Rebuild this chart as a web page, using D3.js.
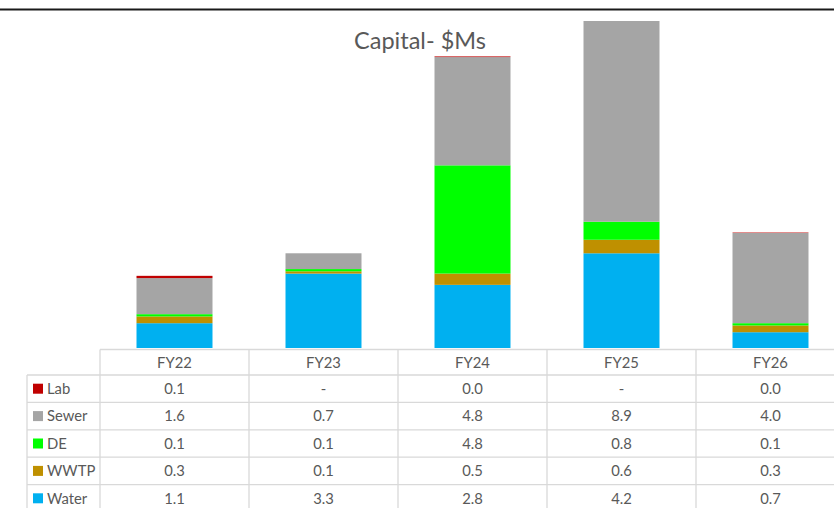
<!DOCTYPE html>
<html>
<head>
<meta charset="utf-8">
<script src="https://cdn.jsdelivr.net/npm/d3@7"></script>
<style>
  html, body { margin: 0; padding: 0; background: #fff; }
  svg { display: block; font-family: Lato, "Open Sans", sans-serif; }
</style>
</head>
<body>
<svg id="chart" width="834" height="508"></svg>
<script>
// Fiscal years (table columns / bar categories)
const years = ["FY22", "FY23", "FY24", "FY25", "FY26"];

// Capital spend by program, $M (null = no spend, shown as "-")
const water = [1.1, 3.3, 2.8, 4.2, 0.7];
const wwtp  = [0.3, 0.1, 0.5, 0.6, 0.3];
const de    = [0.1, 0.1, 4.8, 0.8, 0.1];
const sewer = [1.6, 0.7, 4.8, 8.9, 4.0];
const lab   = [0.1, null, 0.03, null, 0.02];

// Series in stacking order (bottom to top)
const series = [
  { name: "Water", values: water, color: "#00b0f0" },
  { name: "WWTP",  values: wwtp,  color: "#bf9000" },
  { name: "DE",    values: de,    color: "#00ff00" },
  { name: "Sewer", values: sewer, color: "#a5a5a5" },
  { name: "Lab",   values: lab,   color: "#c00000" }
];

const svg = d3.select("#chart");
const textColor = "#595959";
const gridColor = "#d9d9d9";
const tableFont = 14.8;

// Frame line across the top
svg.append("line")
  .attr("x1", 0).attr("x2", 834)
  .attr("y1", 9.5).attr("y2", 9.5)
  .attr("stroke", "#1a1a1a").attr("stroke-width", 2);

// Column scale shared by bars and table
const tableLeft = 100, tableRight = 845;
const x = d3.scaleBand().domain(years).range([tableLeft, tableRight]).padding(0);
const barW = x.bandwidth() * 0.51;

// Stack data
const rows = years.map((yr, i) => {
  const r = { year: yr };
  series.forEach(s => { r[s.name] = s.values[i] || 0; });
  return r;
});
const stack = d3.stack().keys(series.map(s => s.name))(rows);
const totals = rows.map(r => d3.sum(series, s => r[s.name]));

const baseY = 348;
const y = d3.scaleLinear().domain([0, d3.max(totals)]).range([baseY, 21]);

// Bars
const layers = svg.append("g").selectAll("g")
  .data(stack).join("g")
  .attr("fill", (d, i) => series[i].color);

layers.selectAll("rect")
  .data(d => d).join("rect")
  .attr("x", d => x(d.data.year) + (x.bandwidth() - barW) / 2)
  .attr("width", barW)
  .attr("y", d => y(d[1]))
  .attr("height", d => Math.max(0, y(d[0]) - y(d[1])));

// Title
svg.append("text")
  .attr("x", 420).attr("y", 48.5)
  .attr("text-anchor", "middle")
  .attr("fill", textColor)
  .attr("font-size", 23.5)
  .text("Capital- $Ms");

// Data table
const headerTop = 349.5, headerBottom = 375;
const rowH = 27.4;
const tableSeries = series.slice().reverse(); // Lab at top, Water at bottom
const legendLeft = 27;
const fmt = v => (v === null || v === undefined) ? "-" : d3.format(".1f")(v);

const table = svg.append("g");

// Horizontal rules
table.append("line")
  .attr("x1", tableLeft).attr("x2", tableRight)
  .attr("y1", headerTop).attr("y2", headerTop)
  .attr("stroke", gridColor).attr("stroke-width", 1.3);
tableSeries.forEach((s, i) => {
  const yy = headerBottom + i * rowH;
  table.append("line")
    .attr("x1", legendLeft).attr("x2", tableRight)
    .attr("y1", yy).attr("y2", yy)
    .attr("stroke", gridColor).attr("stroke-width", 1.3);
});
const tableBottom = headerBottom + tableSeries.length * rowH;
table.append("line")
  .attr("x1", legendLeft).attr("x2", tableRight)
  .attr("y1", tableBottom).attr("y2", tableBottom)
  .attr("stroke", gridColor).attr("stroke-width", 1.3);

// Vertical rules
table.append("line")
  .attr("x1", legendLeft).attr("x2", legendLeft)
  .attr("y1", headerBottom).attr("y2", tableBottom)
  .attr("stroke", gridColor).attr("stroke-width", 1.3);
years.forEach(yr => {
  table.append("line")
    .attr("x1", x(yr)).attr("x2", x(yr))
    .attr("y1", headerTop).attr("y2", tableBottom)
    .attr("stroke", gridColor).attr("stroke-width", 1.3);
});

// Header labels
table.selectAll("text.hdr")
  .data(years).join("text")
  .attr("class", "hdr")
  .attr("x", d => x(d) + x.bandwidth() / 2)
  .attr("y", (headerTop + headerBottom) / 2)
  .attr("dy", "0.36em")
  .attr("text-anchor", "middle")
  .attr("fill", textColor)
  .attr("font-size", tableFont)
  .text(d => d);

// Series rows: legend key, name and values
tableSeries.forEach((s, i) => {
  const cy = headerBottom + i * rowH + rowH / 2;
  table.append("rect")
    .attr("x", 33).attr("y", cy - 5)
    .attr("width", 10).attr("height", 10)
    .attr("fill", s.color);
  table.append("text")
    .attr("x", 47).attr("y", cy).attr("dy", "0.36em")
    .attr("fill", textColor).attr("font-size", tableFont)
    .text(s.name);
  table.selectAll(null)
    .data(s.values).join("text")
    .attr("x", (d, j) => x(years[j]) + x.bandwidth() / 2)
    .attr("y", cy).attr("dy", "0.36em")
    .attr("text-anchor", "middle")
    .attr("fill", textColor).attr("font-size", tableFont)
    .text(d => fmt(d));
});
</script>
</body>
</html>
